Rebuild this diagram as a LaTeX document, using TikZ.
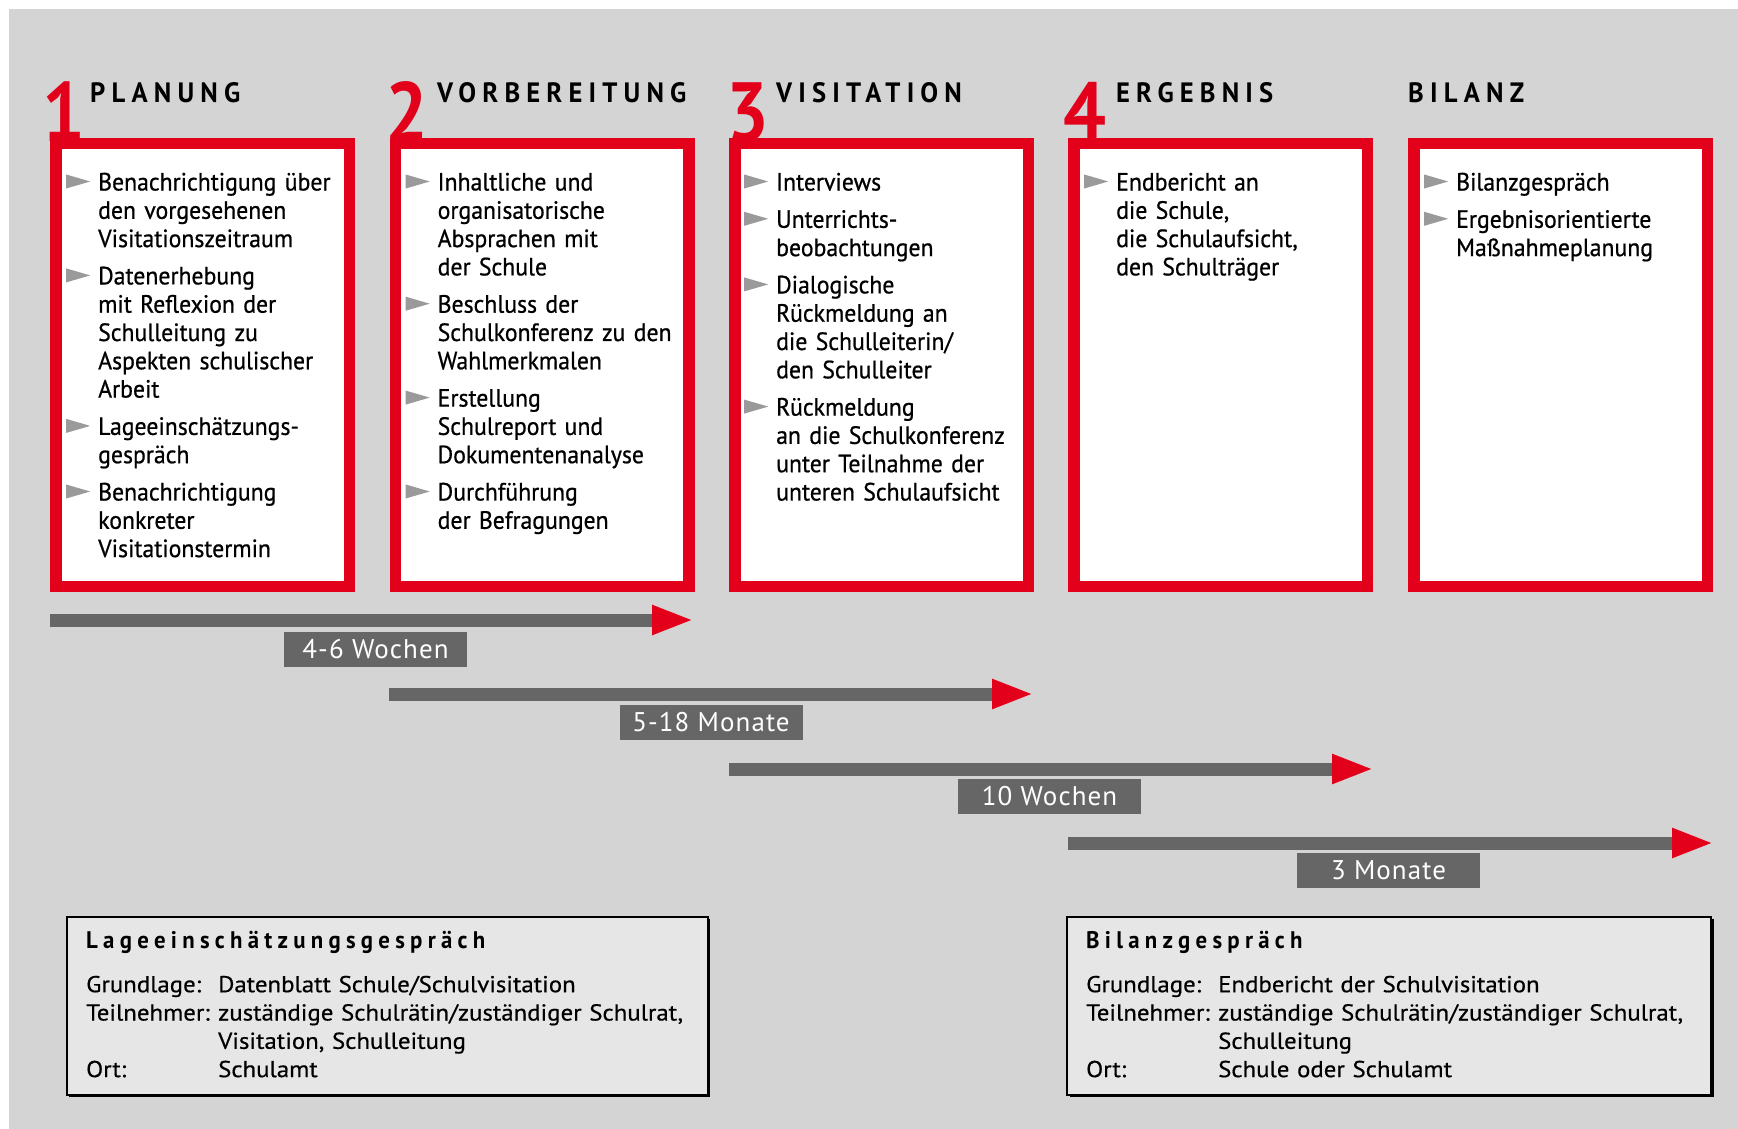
\documentclass[tikz,border=0pt]{standalone}
\usepackage{fontspec}
\setmainfont[FakeStretch=0.95,FakeBold=0.7]{PT Sans}
\newfontfamily\headfont[FakeStretch=0.95,LetterSpace=22]{PT Sans}
\newfontfamily\numfont[FakeStretch=0.9]{PT Sans}
\newfontfamily\infofont[FakeStretch=1.08,FakeBold=0.5]{PT Sans}
\newfontfamily\labfont[FakeStretch=1.0,LetterSpace=4]{PT Sans}
\usetikzlibrary{arrows.meta,calc}
\definecolor{vred}{HTML}{E2001A}
\definecolor{bggray}{HTML}{D4D4D4}
\definecolor{bargray}{HTML}{666666}
\definecolor{bulgray}{HTML}{9A9A9A}
\definecolor{infofill}{HTML}{E6E6E6}
\newcommand\bulmark{\tikz[baseline=0pt]\fill[bulgray] (0pt,2pt) -- (0pt,16pt) -- (24pt,9pt) -- cycle;}
\newcommand\bitem[1]{\par\noindent\llap{\bulmark\hspace{8pt}}\rule{0pt}{20pt}#1\par}
\newcommand\lab[1]{\makebox[132pt][l]{#1}}
\tikzset{
  redbox/.style={draw=vred, fill=white, line width=11.5pt, minimum width=293.5pt, minimum height=442.5pt, inner sep=0pt, outer sep=0pt},
  digit/.style={text=vred, font=\numfont\bfseries\fontsize{84}{84}\selectfont, inner sep=0pt, anchor=base west},
  phase/.style={text=black, font=\headfont\bfseries\fontsize{28}{28}\selectfont, inner sep=0pt, anchor=base west},
  itemtext/.style={text width=300pt, align=left, inner sep=0pt, anchor=north west,
    font=\fontsize{25}{28.3}\selectfont\setlength{\parskip}{9pt}\setlength{\parindent}{0pt}},
  timebar/.style={draw=bargray, line width=13pt, -{Triangle[length=42pt,width=27pt,color=vred]}},
  timelabel/.style={fill=bargray, text=white, minimum width=183pt, minimum height=35pt, inner sep=0pt, font=\labfont\fontsize{27}{27}\selectfont},
  infobox/.style={draw=black, fill=infofill, line width=2pt, inner sep=0pt},
  infotitle/.style={font=\headfont\bfseries\fontsize{24}{24}\selectfont, inner sep=0pt, anchor=base west},
  infotext/.style={text width=640pt, align=left, inner sep=0pt, anchor=north west, font=\infofont\fontsize{23}{28.3}\selectfont}
}
\begin{document}
\begin{tikzpicture}[x=1pt,y=-1pt]
\useasboundingbox (0,0) rectangle (1738,1129);
\fill[white] (0,0) rectangle (1738,1129);
\fill[bggray] (9,9) rectangle (1738,1129);

% phase boxes
\node[redbox] (b1) at (202.5,365) {};
\node[redbox] (b2) at (542,365) {};
\node[redbox] (b3) at (881.5,365) {};
\node[redbox] (b4) at (1220.5,365) {};
\node[redbox] (b5) at (1560.5,365) {};

% digits
\node[digit] (n1) at (42,142) {1};
\node[digit] (n2) at (385,142) {2};
\node[digit] (n3) at (726,142) {3};
\node[digit] (n4) at (1063,142) {4};

% titles
\node[phase] (h1) at (90,103) {PLANUNG};
\node[phase] (h2) at (437,103) {VORBEREITUNG};
\node[phase] (h3) at (776,103) {VISITATION};
\node[phase] (h4) at (1116,103) {ERGEBNIS};
\node[phase] (h5) at (1408,103) {BILANZ};

% items
\node[itemtext] (t1) at (98,153) {%
\bitem{Benachrichtigung über\\den vorgesehenen\\Visitationszeitraum}
\bitem{Datenerhebung\\mit Reflexion der\\Schulleitung zu\\Aspekten schulischer\\Arbeit}
\bitem{Lageeinschätzungs-\\gespräch}
\bitem{Benachrichtigung\\konkreter\\Visitationstermin}};
\node[itemtext] (t2) at (437.5,153) {%
\bitem{Inhaltliche und\\organisatorische\\Absprachen mit\\der Schule}
\bitem{Beschluss der\\Schulkonferenz zu den\\Wahlmerkmalen}
\bitem{Erstellung\\Schulreport und\\Dokumentenanalyse}
\bitem{Durchführung\\der Befragungen}};
\node[itemtext] (t3) at (776,153) {%
\bitem{Interviews}
\bitem{Unterrichts-\\beobachtungen}
\bitem{Dialogische\\Rückmeldung an\\die Schulleiterin/\\den Schulleiter}
\bitem{Rückmeldung\\an die Schulkonferenz\\unter Teilnahme der\\unteren Schulaufsicht}};
\node[itemtext] (t4) at (1116,153) {%
\bitem{Endbericht an\\die Schule,\\die Schulaufsicht,\\den Schulträger}};
\node[itemtext] (t5) at (1456,153) {%
\bitem{Bilanzgespräch}
\bitem{Ergebnisorientierte\\Maßnahmeplanung}};

% time bars
\coordinate (a1s) at (50,620);   \coordinate (a1e) at (694,620);
\coordinate (a2s) at (389,694);  \coordinate (a2e) at (1034,694);
\coordinate (a3s) at (729,769);  \coordinate (a3e) at (1374,769);
\coordinate (a4s) at (1068,843); \coordinate (a4e) at (1714,843);
\draw[timebar] (a1s) -- (a1e);
\draw[timebar] (a2s) -- (a2e);
\draw[timebar] (a3s) -- (a3e);
\draw[timebar] (a4s) -- (a4e);
\node[timelabel] (l1) at (375.5,649) {4-6 Wochen};
\node[timelabel] (l2) at (711,722.5) {5-18 Monate};
\node[timelabel] (l3) at (1049.5,796.5) {10 Wochen};
\node[timelabel] (l4) at (1388.5,870.5) {3 Monate};

% info boxes
\fill[black] (69,919) rectangle (710,1097);
\node[infobox, minimum width=641pt, minimum height=178pt] (ib1) at (387,1006) {};
\fill[black] (1070,919) rectangle (1714,1097);
\node[infobox, minimum width=644pt, minimum height=178pt] (ib2) at (1389,1006) {};

\node[infotitle] (it1) at (86,948) {Lageeinschätzungsgespräch};
\node[infotext] (ix1) at (86,972) {\rule{0pt}{20pt}\lab{Grundlage:}Datenblatt Schule/Schulvisitation\\
\lab{Teilnehmer:}zuständige Schulrätin/zuständiger Schulrat,\\
\hspace*{132pt}Visitation, Schulleitung\\
\lab{Ort:}Schulamt};

\node[infotitle] (it2) at (1086,948) {Bilanzgespräch};
\node[infotext] (ix2) at (1086,972) {\rule{0pt}{20pt}\lab{Grundlage:}Endbericht der Schulvisitation\\
\lab{Teilnehmer:}zuständige Schulrätin/zuständiger Schulrat,\\
\hspace*{132pt}Schulleitung\\
\lab{Ort:}Schule oder Schulamt};
\end{tikzpicture}
\end{document}
